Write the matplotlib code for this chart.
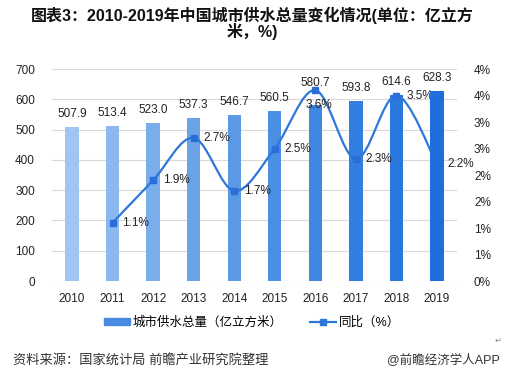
import matplotlib
matplotlib.use("Agg")
import matplotlib.pyplot as plt
from matplotlib.path import Path
from matplotlib.patches import PathPatch, Patch
from matplotlib.lines import Line2D
from matplotlib.ticker import FuncFormatter, MultipleLocator
import numpy as np

plt.rcParams['font.family'] = ['Liberation Sans', 'Noto Sans CJK SC', 'DejaVu Sans']

# Data
years = ["2010", "2011", "2012", "2013", "2014", "2015", "2016", "2017", "2018", "2019"]
supply = [507.9, 513.4, 523.0, 537.3, 546.7, 560.5, 580.7, 593.8, 614.6, 628.3]
growth_years = ["2011", "2012", "2013", "2014", "2015", "2016", "2017", "2018", "2019"]
growth = [1.1, 1.9, 2.7, 1.7, 2.5, 3.6, 2.3, 3.5, 2.2]

bar_colors = ["#9fc5f2", "#8ab8ef", "#79adeb", "#6aa3e8", "#5b99e5",
              "#4b8fe3", "#3f87e1", "#337fdf", "#2a77dd", "#1f6edb"]
line_color = "#2e77da"

W, H = 514, 377
fig = plt.figure(figsize=(W / 100, H / 100), dpi=100)
fig.patch.set_facecolor("white")

left, right, top, bottom = 51.7, 457.3, 69, 281
ax = fig.add_axes([left / W, 1 - bottom / H, (right - left) / W, (bottom - top) / H])
ax2 = ax.twinx()

x = np.arange(len(years))
ax.bar(x, supply, width=0.33, color=bar_colors, zorder=2)
ax.set_ylim(0, 700)
ax.set_xlim(-0.5, len(years) - 0.5)
ax.yaxis.set_major_locator(MultipleLocator(100))
ax.grid(axis="y", color="#d9d9d9", linewidth=0.8, zorder=0)
ax.set_axisbelow(True)
ax.set_xticks(x)
ax.set_xticklabels(years)
ax.tick_params(length=0, labelsize=8.5, colors="#222222")
ax.tick_params(axis="y", pad=12)
ax.tick_params(axis="x", pad=9)
for s in ax.spines.values():
    s.set_visible(False)

for i, v in enumerate(supply):
    dy = 13 if years[i] != "2016" else 22
    ax.annotate(f"{v:.1f}", (x[i], v), xytext=(0, dy), textcoords="offset pixels",
                ha="center", va="center", fontsize=8.5, color="#222222")

# smoothed growth line (bezier through points)
gx = np.array([years.index(y) for y in growth_years], dtype=float)
gy = np.array(growth)
pts = np.column_stack([gx, gy])
verts = [pts[0]]
codes = [Path.MOVETO]
n = len(pts)
for i in range(n - 1):
    p0 = pts[i - 1] if i > 0 else pts[i]
    p1, p2 = pts[i], pts[i + 1]
    p3 = pts[i + 2] if i + 2 < n else pts[i + 1]
    c1 = p1 + (p2 - p0) / 6
    c2 = p2 - (p3 - p1) / 6
    verts += [c1, c2, p2]
    codes += [Path.CURVE4] * 3
ax2.add_patch(PathPatch(Path(verts, codes), facecolor="none", edgecolor=line_color,
                        linewidth=1.6, zorder=3))
ax2.plot(gx[:-1], gy[:-1], linestyle="none", marker="s", markersize=5,
         color="#2a6fd8", zorder=4)
ax2.set_ylim(0, 4)
ax2.yaxis.set_major_locator(MultipleLocator(0.5))
ax2.yaxis.set_major_formatter(FuncFormatter(lambda v, p: f"{int(np.floor(v + 0.5))}%"))
ax2.tick_params(length=0, labelsize=8.5, colors="#222222", pad=12)
for s in ax2.spines.values():
    s.set_visible(False)

for i, v in enumerate(growth):
    if growth_years[i] == "2016":
        off = (4, -15)
    else:
        off = (10, 0)
    ax2.annotate(f"{v:.1f}%", (gx[i], v), xytext=off, textcoords="offset pixels",
                 ha="left" if off[0] > 5 else "center", va="center",
                 fontsize=8.5, color="#222222", zorder=5)

# last bar sits over the line in the reference
ax3 = fig.add_axes(ax.get_position(), sharex=ax, sharey=ax)
ax3.set_zorder(ax2.get_zorder() + 1)
ax3.patch.set_visible(False)
ax3.bar(x[-1:], supply[-1:], width=0.33, color=bar_colors[-1:])
ax3.axis("off")

# legend
handles = [Patch(color="#4a8be2"),
           Line2D([0], [0], color=line_color, lw=1.6, marker="s", markersize=5)]
fig.legend(handles, ["城市供水总量（亿立方米）", "同比（%）"], loc="center",
           bbox_to_anchor=(252 / W, 1 - 323 / H), ncol=2, frameon=False,
           fontsize=9, handlelength=2.1, handleheight=0.5, columnspacing=2.2,
           handletextpad=0.2)

fig.text(252 / W, 1 - 15 / H, "图表3：2010-2019年中国城市供水总量变化情况(单位：亿立方",
         ha="center", va="center", fontsize=11.5, fontweight="bold", color="#111111")
fig.text(252 / W, 1 - 31 / H, "米，%)", ha="center", va="center",
         fontsize=11.5, fontweight="bold", color="#111111")

fig.text(13 / W, 1 - 360 / H, "资料来源：国家统计局 前瞻产业研究院整理", ha="left",
         va="center", fontsize=9.5, color="#333333")
fig.text(500 / W, 1 - 360 / H, "@前瞻经济学人APP", ha="right", va="center",
         fontsize=9, color="#333333")
fig.text(498 / W, 1 - 340 / H, "↵", ha="center", va="center", fontsize=6,
         color="#888888", family=["DejaVu Sans"])

fig.savefig("out.png", dpi=100)
